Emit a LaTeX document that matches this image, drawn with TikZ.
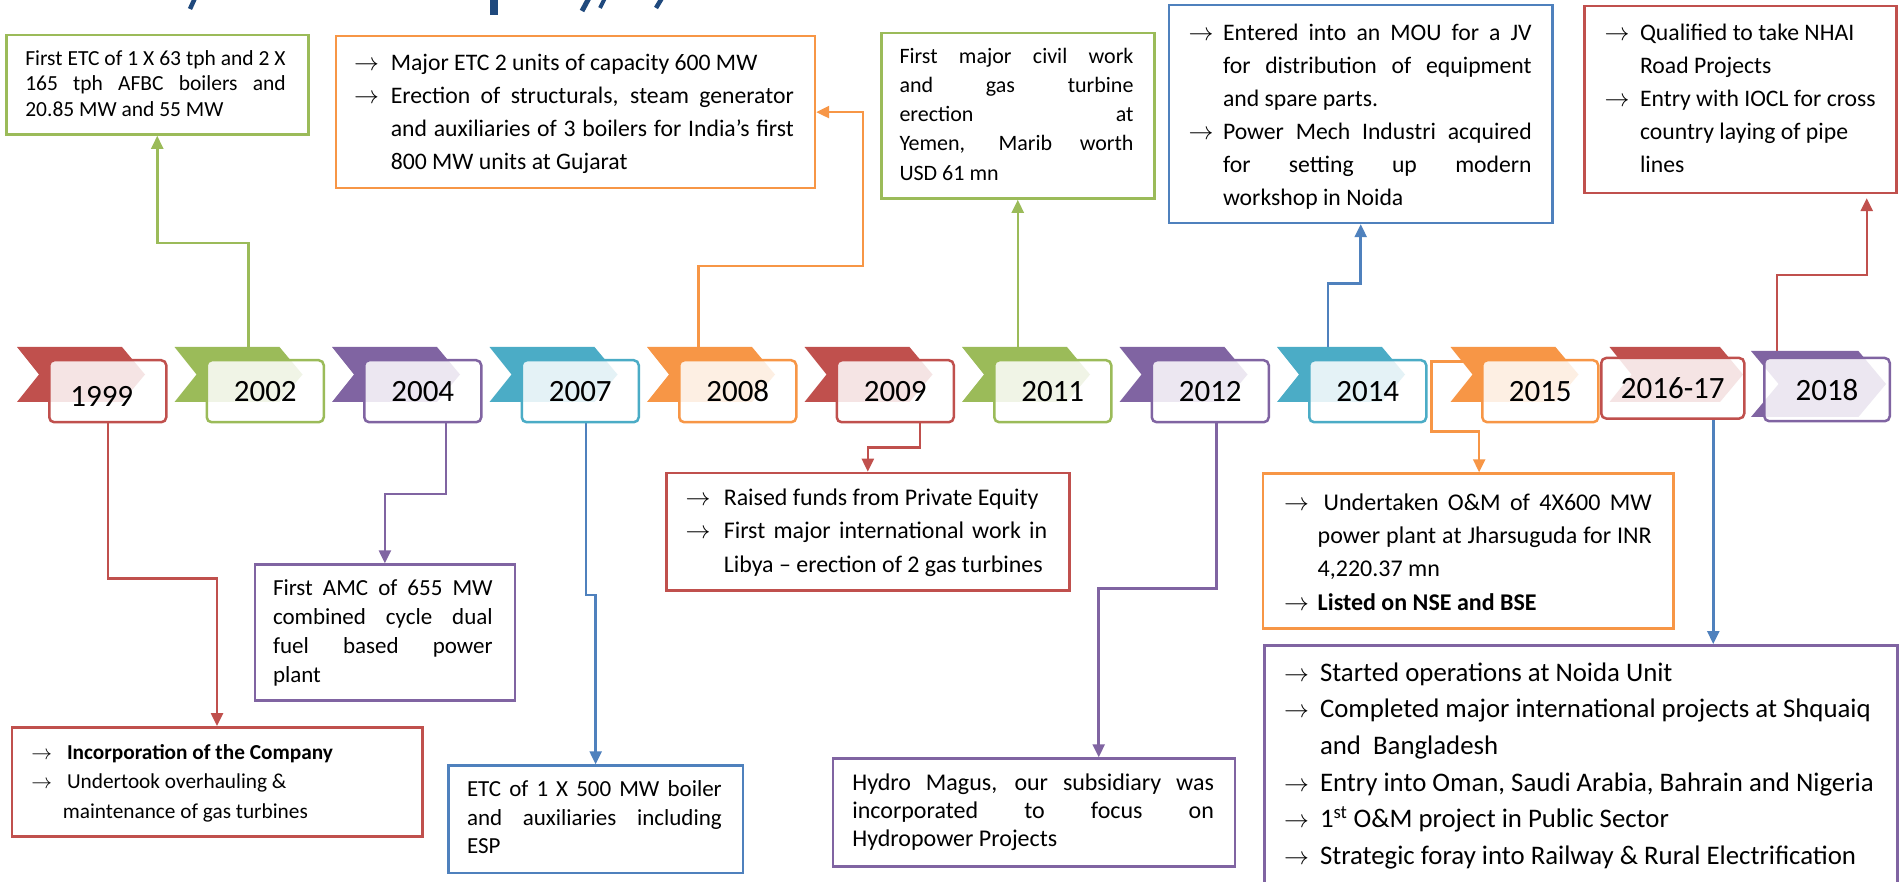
\documentclass[tikz,border=0pt]{standalone}
\usepackage{fontspec}
\setmainfont{Carlito}
\usetikzlibrary{arrows.meta}
\pgfdeclarelayer{bg}
\pgfdeclarelayer{mid}
\pgfsetlayers{bg,mid,main}
\definecolor{cRed}{HTML}{C0504D}
\definecolor{cGreen}{HTML}{9BBB59}
\definecolor{cPurple}{HTML}{8064A2}
\definecolor{cAqua}{HTML}{4BACC6}
\definecolor{cOrange}{HTML}{F79646}
\definecolor{cBlue}{HTML}{4F81BD}
\definecolor{cTitle}{HTML}{1F497D}
\newcommand\J[1]{\makebox[\linewidth][s]{#1}}
\newlength\ind
\newcommand\Ar{\makebox[\ind][l]{$\rightarrow$}}
\newcommand\AJ[1]{\Ar\makebox[\dimexpr\linewidth-\ind\relax][s]{#1}}
\newcommand\CJ[1]{\hspace*{\ind}\makebox[\dimexpr\linewidth-\ind\relax][s]{#1}}
\newcommand\Cn{\hspace*{\ind}}
\newcommand\fs[2]{\fontsize{#1pt}{#2pt}\selectfont}
\tikzset{
  tabbox/.style={draw=#1, line width=2.5pt, fill=white, fill opacity=0.85, text opacity=1,
    rounded corners=5pt, anchor=north west, minimum width=117pt, minimum height=62pt,
    inner sep=0pt, font={\fontsize{31pt}{31pt}\selectfont}},
  dbox/.style={draw=#1, line width=2.5pt, fill=white, anchor=north west, inner sep=0pt},
  txt/.style={anchor=base west, inner sep=0pt, outer sep=0pt},
  conn/.style={draw=#1, line width=2.5pt, -{Triangle[length=13pt,width=12pt]}}
}
\begin{document}
\begin{tikzpicture}[x=1pt,y=-1pt]
\useasboundingbox (0,0) rectangle (1899,882);
\begin{pgfonlayer}{bg}
\fill[white] (0,0) rectangle (1899,882);
\end{pgfonlayer}

% title fragments (cut off at top edge)
\begin{scope}[cTitle]
\draw[line width=4.5pt] (195,-2) -- (190,9);
\fill (490,-1) rectangle (497.5,15);
\draw[line width=5pt] (589,-2) -- (582,11);
\draw[line width=4pt] (605,-2) -- (600,8);
\draw[line width=4.5pt] (662,-2) -- (656,8);
\end{scope}

% chevrons
\begin{pgfonlayer}{mid}
\foreach \c/\col in {17/cRed,174.5/cGreen,332/cPurple,489.5/cAqua,647/cOrange,804.5/cRed,962/cGreen,1119.5/cPurple,1277/cAqua,1450.5/cOrange}{
  \fill[\col] (\c,347) -- ({\c+105},347) -- ({\c+128},374.5) -- ({\c+105},402) -- (\c,402) -- ({\c+22},374.5) -- cycle;
}
\fill[cRed] (1609.5,347) -- (1720,347) -- (1743,374.5) -- (1720,402) -- (1609.5,402) -- (1631.5,374.5) -- cycle;
\fill[cPurple] (1751,351) -- (1858.4,351) -- (1886,384) -- (1858.4,417) -- (1751,417) -- (1778.6,384) -- cycle;
\end{pgfonlayer}

% year boxes
\node[tabbox=cRed] (t1999) at (48,359) {};
\node[font={\fontsize{31pt}{31pt}\selectfont}, inner sep=0pt] (y1999) at ([xshift=-6pt,yshift=-5pt]t1999.center) {1999};
\node[tabbox=cGreen] (t2002) at (205.5,359) {2002};
\node[tabbox=cPurple] (t2004) at (363,359) {2004};
\node[tabbox=cAqua] (t2007) at (520.5,359) {2007};
\node[tabbox=cOrange] (t2008) at (678,359) {2008};
\node[tabbox=cRed] (t2009) at (835.5,359) {2009};
\node[tabbox=cGreen] (t2011) at (993,359) {2011};
\node[tabbox=cPurple] (t2012) at (1150.5,359) {2012};
\node[tabbox=cAqua] (t2014) at (1308,359) {2014};
\node[tabbox=cOrange, minimum width=116pt] (t2015) at (1481,359) {2015};
\node[tabbox=cRed, minimum width=143pt, minimum height=60.6pt] (t2016) at (1600,356.7) {2016-17};
\node[tabbox=cPurple, minimum width=125.5pt, minimum height=63.3pt] (t2018) at (1763,356.7) {2018};

% description boxes
\node[dbox=cGreen, minimum width=302pt, minimum height=99.3pt] (b1) at (5,34) {};
\node[dbox=cOrange, minimum width=479.2pt, minimum height=151.7pt] (b2) at (334.5,35) {};
\node[dbox=cGreen, minimum width=273pt, minimum height=165.6pt] (b3) at (880,31.7) {};
\node[dbox=cBlue, minimum width=383.1pt, minimum height=217.7pt] (b4) at (1167.9,4) {};
\node[dbox=cRed, minimum width=312pt, minimum height=186.7pt] (b5) at (1583,5) {};
\node[dbox=cRed, minimum width=410.5pt, minimum height=109pt] (d1999) at (10.5,726) {};
\node[dbox=cPurple, minimum width=259.9pt, minimum height=136pt] (d2004) at (253.7,563.3) {};
\node[dbox=cBlue, minimum width=294.4pt, minimum height=107.4pt] (d2007) at (447.2,764.3) {};
\node[dbox=cRed, minimum width=403.2pt, minimum height=117.6pt] (d2009) at (665,471.7) {};
\node[dbox=cPurple, minimum width=402.1pt, minimum height=107.7pt] (d2012) at (831.8,757.3) {};
\node[dbox=cOrange, minimum width=410.2pt, minimum height=155pt] (d2015) at (1261.8,472.3) {};
\node[dbox=cPurple, minimum width=633pt, minimum height=250pt] (d2016) at (1263,644) {};

% texts
\node[txt] (tb1) at (25.3,65.5) {\parbox[t]{260.4pt}{\fs{21.5}{25.5}\J{First ETC of 1 X 63 tph and 2 X}\\\J{165 tph AFBC boilers and}\\20.85 MW and 55 MW}};
\node[txt] (tb2) at (354,70.1) {\parbox[t]{439.8pt}{\setlength\ind{36.8pt}\fs{23.7}{33.3}\Ar Major ETC 2 units of capacity 600 MW\\\AJ{Erection of structurals, steam generator}\\\CJ{and auxiliaries of 3 boilers for India’s first}\\\Cn 800 MW units at Gujarat}};
\node[txt] (tb3) at (899.5,63.3) {\parbox[t]{234pt}{\fs{22}{29.2}\J{First major civil work}\\\J{and gas turbine}\\\J{erection at}\\\J{Yemen, Marib worth}\\USD 61 mn}};
\node[txt] (tb4) at (1188.6,40.1) {\parbox[t]{343.1pt}{\setlength\ind{34.4pt}\fs{23.7}{33}\AJ{Entered into an MOU for a JV}\\\CJ{for distribution of equipment}\\\Cn and spare parts.\\\AJ{Power Mech Industri acquired}\\\CJ{for setting up modern}\\\Cn workshop in Noida}};
\node[txt] (tb5) at (1604.5,40.1) {\parbox[t]{280pt}{\setlength\ind{35.5pt}\fs{23.7}{33}\Ar Qualified to take NHAI\\\Cn Road Projects\\\Ar Entry with IOCL for cross\\\Cn country laying of pipe\\\Cn lines}};
\node[txt] (td1999) at (31.4,759.1) {\parbox[t]{380pt}{\setlength\ind{35.6pt}\fs{21.3}{29.5}\Ar\textbf{Incorporation of the Company}\\\Ar Undertook overhauling \&\\\hspace*{31.4pt}maintenance of gas turbines}};
\node[txt] (td2004) at (273,595.9) {\parbox[t]{219.7pt}{\fs{23}{28.7}\J{First AMC of 655 MW}\\\J{combined cycle dual}\\\J{fuel based power}\\plant}};
\node[txt] (td2007) at (467,796.9) {\parbox[t]{254.8pt}{\fs{23}{28.3}\J{ETC of 1 X 500 MW boiler}\\\J{and auxiliaries including}\\ESP}};
\node[txt] (td2009) at (685.5,505.5) {\parbox[t]{361.8pt}{\setlength\ind{38.3pt}\fs{23.9}{33.3}\Ar Raised funds from Private Equity\\\AJ{First major international work in}\\\Cn Libya – erection of 2 gas turbines}};
\node[txt] (td2012) at (852.3,790.5) {\parbox[t]{361.7pt}{\fs{24}{28}\J{Hydro Magus, our subsidiary was}\\\J{incorporated to focus on}\\Hydropower Projects}};
\node[txt] (td2015) at (1284,510.2) {\parbox[t]{367.8pt}{\setlength\ind{33.7pt}\fs{24}{33.3}\Ar\hspace{6pt}\makebox[\dimexpr\linewidth-\ind-6pt\relax][s]{Undertaken O\&M of 4X600 MW}\\\CJ{power plant at Jharsuguda for INR}\\\Cn 4,220.37 mn\\\Ar\textbf{Listed on NSE and BSE}}};
\node[txt] (td2016) at (1284,681) {\parbox[t]{600pt}{\setlength\ind{36pt}\fs{26.8}{36.7}\Ar Started operations at Noida Unit\\\Ar Completed major international projects at Shquaiq\\\Cn and~~Bangladesh\\\Ar Entry into Oman, Saudi Arabia, Bahrain and Nigeria\\\Ar 1\textsuperscript{st} O\&M project in Public Sector\\\Ar Strategic foray into Railway \& Rural Electrification}};

% connectors
\begin{pgfonlayer}{bg}
\draw[conn=cRed] (t1999.south) -- ++(0,155) -| (d1999.north);
\draw[conn=cGreen] ([xshift=-17pt]t2002.north) -- ++(0,-116) -| (b1.south);
\draw[conn=cPurple] ([xshift=23pt]t2004.south) -- ++(0,70.7) -| (d2004.north);
\draw[conn=cBlue] ([xshift=5.7pt]t2007.south) -- ++(0,171.3) -| (d2007.north);
\draw[conn=cOrange] ([xshift=-39.5pt]t2008.north) -- ++(0,-93) -- ++(164.5,0) |- (b2.east);
\draw[conn=cRed] ([xshift=24.8pt]t2009.south) -- ++(0,24) -| (d2009.north);
\draw[conn=cGreen] ([xshift=-35pt]t2011.north) -- (b3.south);
\draw[conn=cPurple] ([xshift=6.3pt]t2012.south) -- ++(0,165) -| ([xshift=64.6pt]d2012.north);
\draw[conn=cBlue] ([xshift=-39.9pt]t2014.north) -- ++(0,-75.7) -| (b4.south);
\draw[conn=cOrange] ([yshift=-2.7pt]t2015.north west) -- ++(-49.6,0) -- ++(0,70) -| ([xshift=11pt]d2015.north);
\draw[conn=cBlue] ([xshift=40.5pt]t2016.south) -- ([xshift=132.5pt]d2016.north);
\draw[conn=cRed, shorten >=4pt] ([xshift=-50pt]t2018.north) -- ++(0,-81.7) -| ([xshift=126.5pt]b5.south);
\end{pgfonlayer}
\end{tikzpicture}
\end{document}
